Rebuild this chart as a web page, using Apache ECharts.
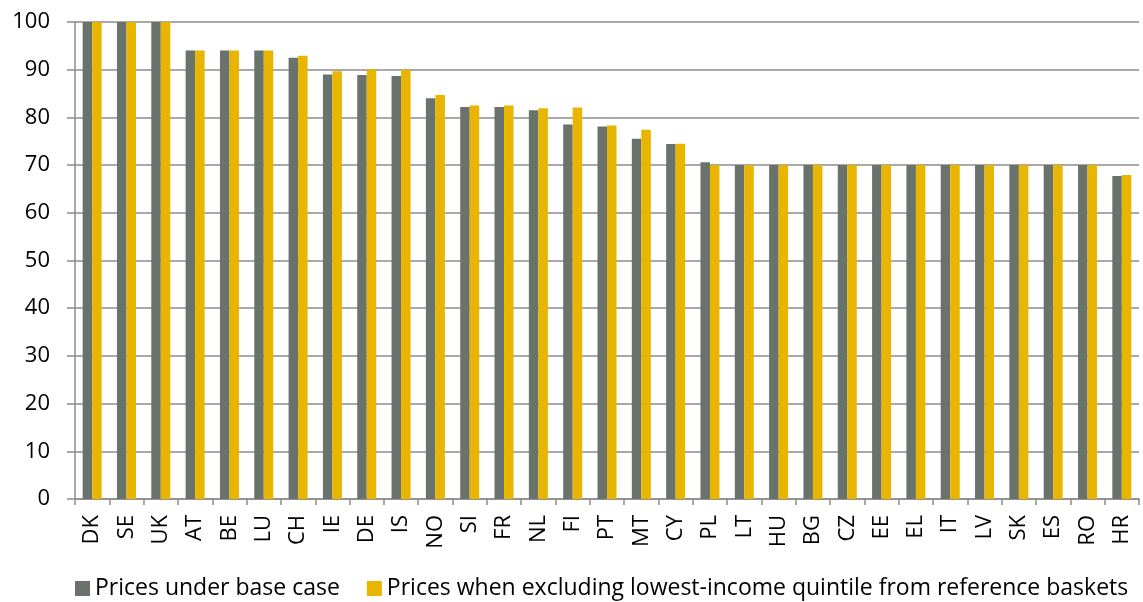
<!DOCTYPE html>
<html>
<head>
<meta charset="utf-8">
<script src="https://cdn.jsdelivr.net/npm/echarts@6/dist/echarts.min.js"></script>
<style>
  html, body { margin: 0; padding: 0; background: #fff; }
  #price-chart { width: 1143px; height: 602px; }
</style>
</head>
<body>
<div id="price-chart"></div>
<script>
var countries = ['DK', 'SE', 'UK', 'AT', 'BE', 'LU', 'CH', 'IE', 'DE', 'IS', 'NO', 'SI', 'FR', 'NL', 'FI', 'PT',
    'MT', 'CY', 'PL', 'LT', 'HU', 'BG', 'CZ', 'EE', 'EL', 'IT', 'LV', 'SK', 'ES', 'RO', 'HR'];
var baseCase = [100, 100, 100, 94, 94, 94, 92.5, 89, 88.9, 88.7, 84, 82.2, 82.2, 81.5, 78.5, 78.1,
    75.5, 74.4, 70.6, 70, 70, 70, 70, 70, 70, 70, 70, 70, 70, 70, 67.7];
var excludingLowest = [100, 100, 100, 94, 94, 94, 92.9, 89.7, 90.1, 90, 84.7, 82.5, 82.5, 81.9, 82.1, 78.3,
    77.4, 74.5, 70, 70, 70, 70, 70, 70, 70, 70, 70, 70, 70, 70, 67.9];
var seriesNames = ['Prices under base case', 'Prices when excluding lowest-income quintile from reference baskets'];

var dom = document.getElementById('price-chart');
var myChart = echarts.init(dom, null, { renderer: 'canvas' });

var font = 'Open Sans';
var gridColor = '#8c8c8c';

var option = {
    animation: false,
    color: ['#69736b', '#e8b500'],
    legend: {
        data: seriesNames,
        left: 70,
        top: 572,
        itemWidth: 15,
        itemHeight: 15,
        itemGap: 27,
        icon: 'rect',
        textStyle: { fontFamily: font, fontSize: 23, color: '#000' }
    },
    grid: {
        left: 75,
        right: 4,
        top: 22,
        bottom: 103,
        containLabel: false
    },
    xAxis: {
        type: 'category',
        data: countries,
        axisLine: { lineStyle: { color: gridColor, width: 1.5 } },
        axisTick: { show: true, length: 6, lineStyle: { color: gridColor, width: 1.5 } },
        axisLabel: {
            rotate: 90,
            interval: 0,
            margin: 16,
            fontFamily: font,
            fontSize: 22,
            color: '#000'
        }
    },
    yAxis: {
        type: 'value',
        min: 0,
        max: 100,
        interval: 10,
        axisLine: { show: true, lineStyle: { color: gridColor, width: 1.5 } },
        axisTick: { show: true, length: 8, lineStyle: { color: gridColor, width: 1.5 } },
        axisLabel: { fontFamily: font, fontSize: 22, color: '#000', margin: 25 },
        splitLine: { lineStyle: { color: gridColor, width: 1.5 } }
    },
    series: [
        {
            name: seriesNames[0],
            type: 'bar',
            barWidth: 9.5,
            barGap: '0%',
            data: baseCase
        },
        {
            name: seriesNames[1],
            type: 'bar',
            barWidth: 9.5,
            barGap: '0%',
            data: excludingLowest
        }
    ]
};

myChart.setOption(option);
window.addEventListener('resize', myChart.resize);
</script>
</body>
</html>
